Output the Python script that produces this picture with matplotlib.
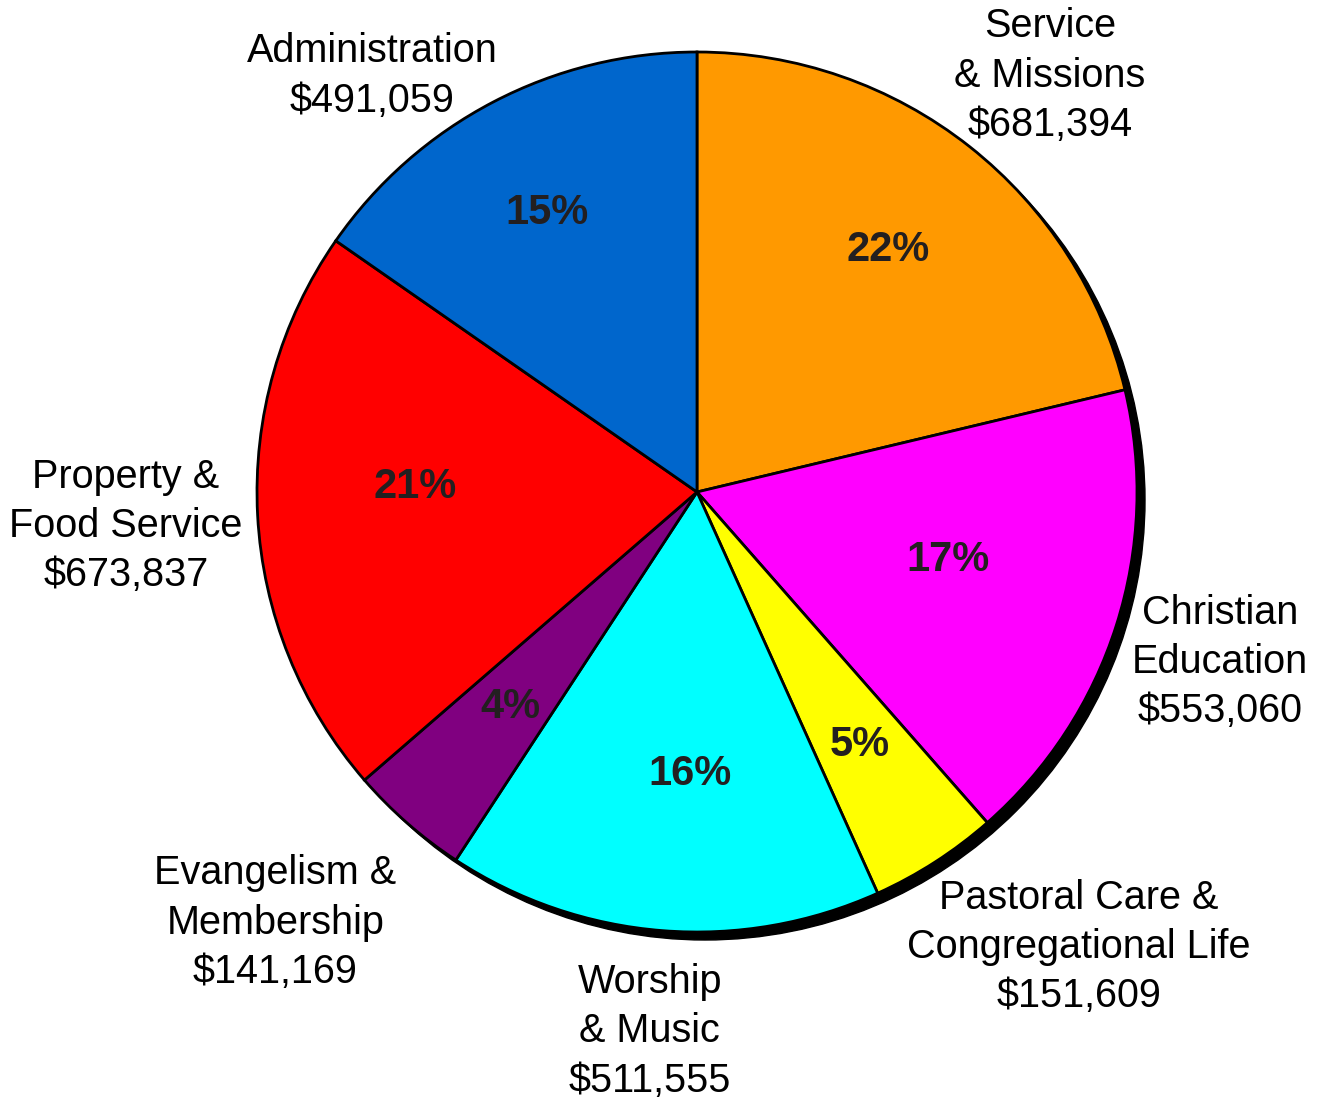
import matplotlib.pyplot as plt
import numpy as np

plt.rcParams['font.family'] = ['Liberation Sans', 'DejaVu Sans']

# data, clockwise from 12 o'clock
categories = ["Service\n& Missions", "Christian\nEducation",
              "Pastoral Care &\nCongregational Life", "Worship\n& Music",
              "Evangelism &\nMembership", "Property &\nFood Service",
              "Administration"]
amounts = [681394, 553060, 151609, 511555, 141169, 673837, 491059]
pct_labels = ["22%", "17%", "5%", "16%", "4%", "21%", "15%"]
colors = ["#FF9900", "#FF00FF", "#FFFF00", "#00FFFF", "#800080", "#FF0000", "#0066CC"]

# label placement (angle in degrees, radius as fraction of pie radius)
label_angle = [49.7, -18, -50, -95, -134.4, -176.6, 128]
label_radius = [1.24, 1.25, 1.35, 1.23, 1.37, 1.30, 1.20]
pct_angle = [51.7, -15.2, -57.2, -91.4, -131.0, 179.0, 118.3]
pct_radius = [0.70, 0.59, 0.684, 0.64, 0.647, 0.64, 0.72]

fig = plt.figure(figsize=(13.22, 11.03), dpi=100)
ax = fig.add_axes([0, 0, 1, 1])
R = 440.0  # pixels per data unit
cx, cy = 697, 492

# drop shadow
shadow = plt.Circle((8 / R, -8 / R), 1.0, color='black', zorder=0)
ax.add_patch(shadow)

wedges, _ = ax.pie(amounts, colors=colors, startangle=90, counterclock=False,
                   radius=1.0, center=(0, 0), frame=True,
                   wedgeprops=dict(edgecolor='black', linewidth=2))
ax.set_xlim(-cx / R, (1322 - cx) / R)
ax.set_ylim(-(1103 - cy) / R, cy / R)
ax.set_aspect('equal')
ax.axis('off')

for p, a, r in zip(pct_labels, pct_angle, pct_radius):
    t = np.deg2rad(a)
    ax.text(r * np.cos(t), r * np.sin(t), p, ha='center', va='center',
            fontsize=30, fontweight='bold', color='#231F20')

for name, amt, a, r in zip(categories, amounts, label_angle, label_radius):
    t = np.deg2rad(a)
    ax.text(r * np.cos(t), r * np.sin(t), f"{name}\n${amt:,}", ha='center',
            va='center', fontsize=28.5, linespacing=1.38, color='black')

fig.savefig("out.png", dpi=100)
